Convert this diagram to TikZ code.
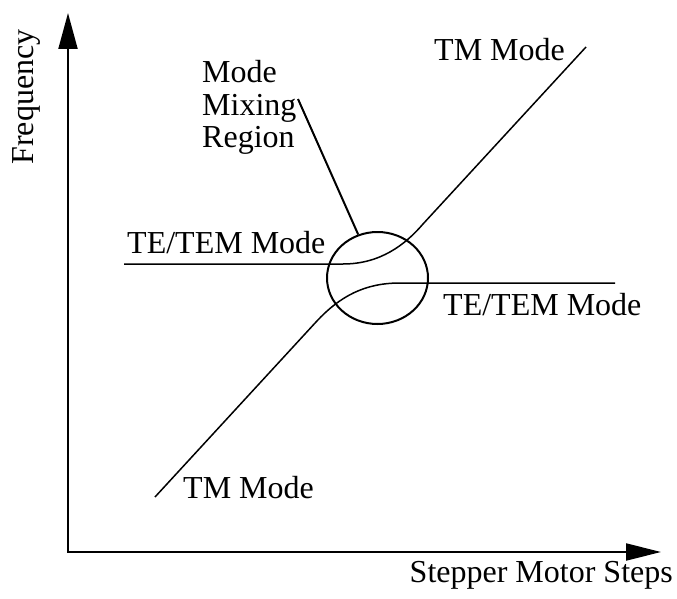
\documentclass[tikz,border=0pt]{standalone}
\usepackage{fontspec}
\setmainfont{Liberation Serif}
\usetikzlibrary{arrows.meta,shapes.geometric}
\begin{document}
\begin{tikzpicture}[x=1pt,y=-1pt,
  lbl/.style={font=\fontsize{32}{32.5}\selectfont, inner sep=0pt},
  axisline/.style={line width=2pt, line join=miter,
    {Triangle[length=36pt,width=19pt]}-{Triangle[length=35pt,width=17pt]}},
  modeline/.style={line width=1.5pt},
  region/.style={draw, ellipse, line width=2pt, minimum width=101pt, minimum height=92pt, inner sep=0pt},
  leader/.style={line width=2pt}]
\useasboundingbox (0,0) rectangle (677,599);
% axes
\coordinate (ytip) at (68,13);
\coordinate (origin) at (68,552);
\coordinate (xtip) at (661,552);
\draw[axisline] (ytip) -- (origin) -- (xtip);
\node[lbl, rotate=90] (freq) at (26,97) {Frequency};
\node[lbl, anchor=base east] (steps) at (673,582) {Stepper Motor Steps};
% mode lines
\coordinate (u1) at (124,264);
\coordinate (u2) at (343,264);
\coordinate (u3) at (423,224);
\coordinate (u4) at (586,47);
\draw[modeline] (u1) -- (u2) .. controls (380,264) and (405,245) .. (u3) -- (u4);
\coordinate (l1) at (155,497);
\coordinate (l2) at (316,322);
\coordinate (l3) at (400,283);
\coordinate (l4) at (615,283);
\draw[modeline] (l1) -- (l2) .. controls (340,296) and (365,283) .. (l3) -- (l4);
% region
\node[region] (mix) at (377.5,278) {};
\node[lbl, align=left, anchor=west] (mixlbl) at (202,107.5) {Mode\\Mixing\\Region};
\coordinate (lead) at (298,99);
\draw[leader] (lead) -- (mix);
% labels
\node[lbl, anchor=base west] (tmtop) at (434,61) {TM Mode};
\node[lbl, anchor=base west] (tmbot) at (183,498) {TM Mode};
\node[lbl, anchor=base west] (teleft) at (127,253) {TE/TEM Mode};
\node[lbl, anchor=base west] (teright) at (443,315) {TE/TEM Mode};
\end{tikzpicture}
\end{document}
